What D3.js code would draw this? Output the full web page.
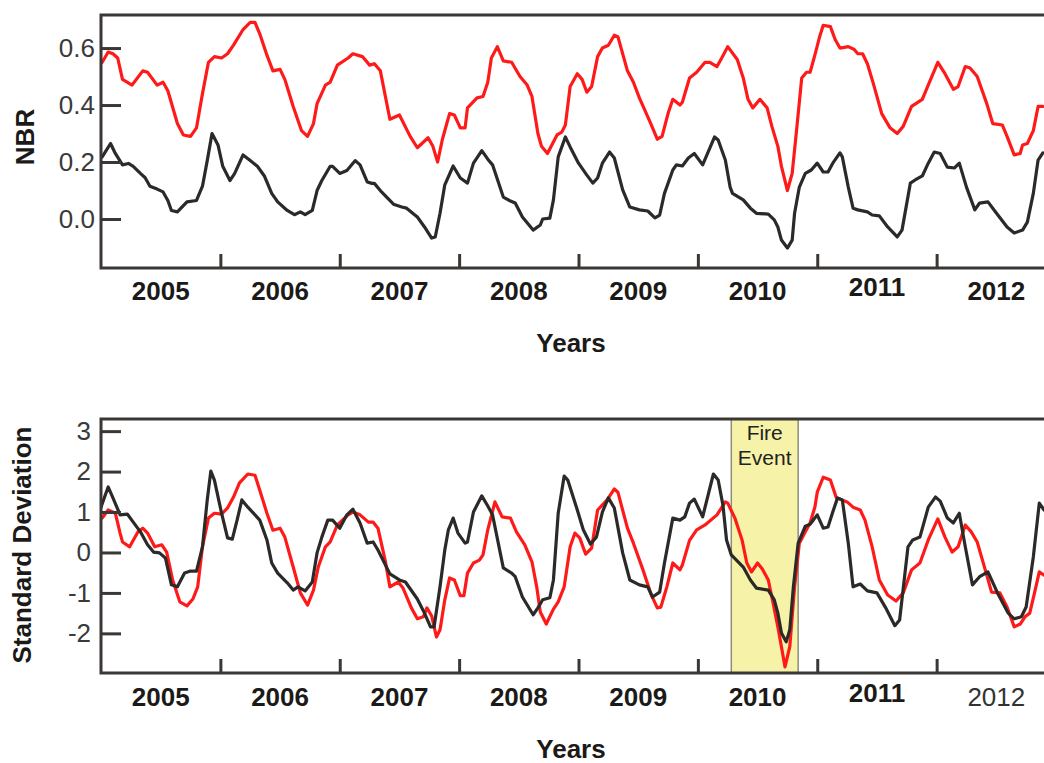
<!DOCTYPE html>
<html>
<head>
<meta charset="utf-8">
<script src="https://cdn.jsdelivr.net/npm/d3@7"></script>
<style>
  html, body { margin: 0; padding: 0; background: #fff; }
  svg { display: block; }
</style>
</head>
<body>
<svg id="chart" width="1044" height="763"></svg>
<script>
// ---- Data: [decimal year, value] ----
const yearLabels = ["2005", "2006", "2007", "2008", "2009", "2010", "2011", "2012"];
const nbrTicks = [0.0, 0.2, 0.4, 0.6];
const sdTicks = [-2, -1, 0, 1, 2, 3];
const fireStart = 2010.28;
const fireEnd = 2010.84;

const nbrRed = [
  [2005.01,0.55],[2005.06,0.586],[2005.10,0.58],[2005.14,0.565],[2005.18,0.49],[2005.26,0.47],
  [2005.35,0.52],[2005.39,0.515],[2005.47,0.47],[2005.52,0.48],[2005.56,0.45],[2005.64,0.335],
  [2005.69,0.295],[2005.75,0.29],[2005.80,0.32],[2005.85,0.44],[2005.90,0.55],[2005.95,0.57],
  [2006.01,0.565],[2006.06,0.58],[2006.11,0.61],[2006.19,0.665],[2006.25,0.69],[2006.29,0.69],
  [2006.33,0.65],[2006.39,0.575],[2006.44,0.52],[2006.50,0.525],[2006.54,0.49],[2006.61,0.395],
  [2006.68,0.31],[2006.73,0.29],[2006.78,0.335],[2006.81,0.405],[2006.88,0.47],[2006.92,0.48],
  [2006.98,0.54],[2007.07,0.565],[2007.11,0.58],[2007.19,0.57],[2007.25,0.54],[2007.29,0.545],
  [2007.34,0.52],[2007.42,0.35],[2007.50,0.365],[2007.59,0.29],[2007.65,0.25],[2007.74,0.285],
  [2007.78,0.255],[2007.82,0.2],[2007.86,0.28],[2007.92,0.37],[2007.96,0.365],[2008.01,0.32],
  [2008.05,0.32],[2008.07,0.39],[2008.15,0.425],[2008.20,0.43],[2008.24,0.48],[2008.27,0.565],
  [2008.32,0.605],[2008.37,0.555],[2008.44,0.55],[2008.51,0.5],[2008.57,0.47],[2008.61,0.43],
  [2008.66,0.3],[2008.69,0.255],[2008.74,0.23],[2008.82,0.295],[2008.86,0.305],[2008.89,0.33],
  [2008.93,0.465],[2008.99,0.51],[2009.03,0.49],[2009.07,0.445],[2009.11,0.465],[2009.16,0.57],
  [2009.20,0.6],[2009.25,0.61],[2009.30,0.645],[2009.33,0.64],[2009.41,0.52],[2009.46,0.48],
  [2009.51,0.425],[2009.60,0.34],[2009.66,0.28],[2009.70,0.29],[2009.75,0.37],[2009.79,0.42],
  [2009.85,0.4],[2009.87,0.41],[2009.93,0.495],[2009.99,0.515],[2010.06,0.55],[2010.10,0.55],
  [2010.16,0.535],[2010.20,0.565],[2010.25,0.605],[2010.33,0.56],[2010.38,0.495],[2010.42,0.42],
  [2010.46,0.39],[2010.52,0.42],[2010.58,0.39],[2010.62,0.325],[2010.67,0.255],[2010.70,0.185],
  [2010.75,0.1],[2010.79,0.16],[2010.83,0.325],[2010.87,0.495],[2010.91,0.515],[2010.94,0.515],
  [2010.98,0.575],[2011.02,0.64],[2011.05,0.68],[2011.11,0.675],[2011.15,0.63],[2011.19,0.6],
  [2011.26,0.605],[2011.31,0.595],[2011.34,0.58],[2011.38,0.58],[2011.42,0.545],[2011.47,0.475],
  [2011.54,0.37],[2011.61,0.32],[2011.67,0.3],[2011.72,0.325],[2011.79,0.395],[2011.88,0.42],
  [2011.94,0.48],[2012.01,0.55],[2012.07,0.51],[2012.14,0.455],[2012.18,0.465],[2012.24,0.535],
  [2012.28,0.53],[2012.34,0.5],[2012.42,0.405],[2012.47,0.335],[2012.55,0.33],[2012.59,0.29],
  [2012.65,0.225],[2012.70,0.23],[2012.72,0.26],[2012.76,0.265],[2012.81,0.31],[2012.85,0.395],
  [2012.89,0.395]
];

const nbrBlack = [
  [2005.01,0.218],[2005.08,0.265],[2005.12,0.23],[2005.18,0.19],[2005.23,0.195],[2005.27,0.185],
  [2005.33,0.16],[2005.37,0.145],[2005.41,0.115],[2005.47,0.105],[2005.52,0.095],[2005.56,0.065],
  [2005.59,0.03],[2005.64,0.025],[2005.72,0.06],[2005.80,0.065],[2005.85,0.115],[2005.89,0.205],
  [2005.93,0.3],[2005.98,0.26],[2006.02,0.185],[2006.08,0.135],[2006.12,0.16],[2006.19,0.225],
  [2006.25,0.205],[2006.31,0.185],[2006.37,0.15],[2006.43,0.09],[2006.48,0.06],[2006.56,0.03],
  [2006.62,0.015],[2006.67,0.025],[2006.71,0.015],[2006.77,0.03],[2006.81,0.1],[2006.85,0.135],
  [2006.92,0.185],[2006.94,0.185],[2007.00,0.16],[2007.06,0.17],[2007.13,0.205],[2007.17,0.19],
  [2007.23,0.13],[2007.27,0.125],[2007.29,0.125],[2007.35,0.095],[2007.45,0.052],[2007.52,0.042],
  [2007.56,0.038],[2007.65,0.007],[2007.71,-0.028],[2007.77,-0.067],[2007.80,-0.063],[2007.84,0.02],
  [2007.88,0.12],[2007.95,0.186],[2008.01,0.144],[2008.07,0.126],[2008.12,0.196],[2008.19,0.24],
  [2008.24,0.21],[2008.28,0.19],[2008.37,0.077],[2008.43,0.063],[2008.47,0.056],[2008.53,0.007],
  [2008.62,-0.039],[2008.68,-0.021],[2008.70,0.0],[2008.76,0.003],[2008.79,0.067],[2008.83,0.218],
  [2008.89,0.288],[2008.93,0.253],[2009.00,0.196],[2009.07,0.154],[2009.12,0.126],[2009.16,0.144],
  [2009.20,0.196],[2009.26,0.235],[2009.30,0.214],[2009.37,0.102],[2009.43,0.042],[2009.51,0.032],
  [2009.58,0.028],[2009.64,0.004],[2009.68,0.014],[2009.72,0.09],[2009.79,0.172],[2009.82,0.19],
  [2009.87,0.186],[2009.92,0.214],[2009.97,0.23],[2010.04,0.19],[2010.14,0.288],[2010.17,0.277],
  [2010.23,0.207],[2010.27,0.112],[2010.29,0.09],[2010.38,0.067],[2010.44,0.038],[2010.49,0.02],
  [2010.59,0.017],[2010.64,-0.003],[2010.67,-0.028],[2010.70,-0.074],[2010.75,-0.102],[2010.79,-0.074],
  [2010.81,0.02],[2010.85,0.112],[2010.90,0.16],[2010.95,0.172],[2011.00,0.196],[2011.05,0.165],
  [2011.09,0.165],[2011.13,0.196],[2011.19,0.232],[2011.21,0.218],[2011.26,0.112],[2011.30,0.038],
  [2011.34,0.032],[2011.42,0.025],[2011.46,0.014],[2011.52,0.011],[2011.59,-0.028],[2011.67,-0.063],
  [2011.71,-0.039],[2011.78,0.126],[2011.82,0.137],[2011.88,0.151],[2011.93,0.196],[2011.98,0.235],
  [2012.03,0.23],[2012.09,0.182],[2012.15,0.179],[2012.19,0.196],[2012.25,0.112],[2012.32,0.032],
  [2012.36,0.056],[2012.43,0.06],[2012.50,0.021],[2012.59,-0.028],[2012.65,-0.049],[2012.72,-0.039],
  [2012.76,-0.011],[2012.81,0.09],[2012.85,0.207],[2012.89,0.232]
];

const sdRed = [
  [2005.01,0.85],[2005.06,1.05],[2005.12,0.97],[2005.16,0.48],[2005.18,0.26],[2005.24,0.14],
  [2005.31,0.51],[2005.35,0.6],[2005.39,0.48],[2005.45,0.14],[2005.51,0.19],[2005.55,0.01],
  [2005.60,-0.68],[2005.66,-1.22],[2005.72,-1.32],[2005.77,-1.15],[2005.81,-0.85],[2005.85,0.14],
  [2005.90,0.85],[2005.95,0.97],[2006.01,0.95],[2006.06,1.1],[2006.11,1.37],[2006.16,1.72],
  [2006.23,1.94],[2006.29,1.91],[2006.33,1.54],[2006.39,0.97],[2006.44,0.55],[2006.50,0.6],
  [2006.54,0.38],[2006.61,-0.36],[2006.67,-1.0],[2006.73,-1.3],[2006.78,-0.93],[2006.82,-0.36],
  [2006.88,0.14],[2006.92,0.26],[2006.98,0.68],[2007.07,0.93],[2007.11,1.0],[2007.17,0.93],
  [2007.24,0.75],[2007.28,0.75],[2007.32,0.6],[2007.38,-0.19],[2007.42,-0.85],[2007.49,-0.73],
  [2007.53,-0.88],[2007.60,-1.37],[2007.65,-1.64],[2007.70,-1.59],[2007.73,-1.37],[2007.77,-1.57],
  [2007.81,-2.09],[2007.84,-1.91],[2007.88,-1.17],[2007.92,-0.63],[2007.96,-0.68],[2008.01,-1.07],
  [2008.04,-1.07],[2008.07,-0.51],[2008.12,-0.26],[2008.17,-0.19],[2008.20,-0.06],[2008.24,0.56],
  [2008.30,1.25],[2008.36,0.88],[2008.43,0.85],[2008.48,0.51],[2008.55,0.19],[2008.61,-0.23],
  [2008.65,-0.85],[2008.68,-1.47],[2008.73,-1.77],[2008.79,-1.4],[2008.83,-1.22],[2008.88,-0.85],
  [2008.93,0.14],[2008.97,0.48],[2009.01,0.36],[2009.06,-0.04],[2009.11,0.11],[2009.16,1.05],
  [2009.24,1.3],[2009.30,1.57],[2009.33,1.49],[2009.41,0.6],[2009.46,0.23],[2009.54,-0.43],
  [2009.61,-1.05],[2009.66,-1.37],[2009.69,-1.35],[2009.74,-0.85],[2009.79,-0.26],[2009.85,-0.43],
  [2009.87,-0.31],[2009.93,0.3],[2009.99,0.56],[2010.06,0.68],[2010.16,0.93],[2010.23,1.25],
  [2010.25,1.22],[2010.31,0.85],[2010.37,0.31],[2010.41,-0.26],[2010.45,-0.48],[2010.50,-0.26],
  [2010.54,-0.41],[2010.59,-0.68],[2010.63,-1.25],[2010.67,-1.84],[2010.73,-2.83],[2010.77,-2.33],
  [2010.81,-0.85],[2010.85,0.23],[2010.90,0.51],[2010.94,0.73],[2010.98,1.12],[2011.00,1.49],
  [2011.05,1.86],[2011.11,1.79],[2011.16,1.35],[2011.25,1.25],[2011.30,1.12],[2011.36,1.05],
  [2011.40,0.8],[2011.46,0.14],[2011.52,-0.68],[2011.59,-1.05],[2011.66,-1.2],[2011.72,-1.0],
  [2011.79,-0.43],[2011.86,-0.26],[2011.93,0.31],[2012.01,0.83],[2012.07,0.38],[2012.13,0.01],
  [2012.18,0.14],[2012.24,0.68],[2012.29,0.51],[2012.34,0.26],[2012.42,-0.56],[2012.46,-0.98],
  [2012.53,-1.0],[2012.59,-1.35],[2012.65,-1.84],[2012.70,-1.77],[2012.74,-1.59],[2012.78,-1.5],
  [2012.82,-1.0],[2012.86,-0.48],[2012.90,-0.56]
];

const sdBlack = [
  [2005.00,1.12],[2005.03,1.37],[2005.06,1.62],[2005.10,1.35],[2005.16,0.93],[2005.22,0.95],
  [2005.27,0.75],[2005.33,0.51],[2005.39,0.19],[2005.44,0.01],[2005.49,-0.01],[2005.54,-0.14],
  [2005.59,-0.8],[2005.64,-0.85],[2005.70,-0.51],[2005.75,-0.46],[2005.80,-0.46],[2005.85,0.14],
  [2005.89,1.3],[2005.92,2.01],[2005.95,1.79],[2006.01,0.97],[2006.06,0.36],[2006.10,0.33],
  [2006.14,0.8],[2006.18,1.3],[2006.23,1.12],[2006.29,0.93],[2006.33,0.8],[2006.39,0.31],
  [2006.43,-0.26],[2006.48,-0.51],[2006.56,-0.75],[2006.61,-0.93],[2006.65,-0.85],[2006.71,-0.95],
  [2006.77,-0.73],[2006.81,-0.01],[2006.85,0.38],[2006.90,0.8],[2006.94,0.8],[2007.00,0.6],
  [2007.06,0.93],[2007.11,1.07],[2007.17,0.73],[2007.23,0.23],[2007.28,0.26],[2007.32,0.06],
  [2007.42,-0.53],[2007.50,-0.68],[2007.55,-0.73],[2007.65,-1.15],[2007.71,-1.5],[2007.76,-1.84],
  [2007.79,-1.84],[2007.84,-0.85],[2007.88,0.06],[2007.91,0.56],[2007.95,0.85],[2007.99,0.48],
  [2008.05,0.23],[2008.07,0.26],[2008.12,1.0],[2008.19,1.4],[2008.24,1.15],[2008.28,0.93],
  [2008.37,-0.38],[2008.44,-0.51],[2008.47,-0.6],[2008.53,-1.1],[2008.62,-1.54],[2008.66,-1.37],
  [2008.70,-1.17],[2008.76,-1.12],[2008.79,-0.68],[2008.83,0.97],[2008.88,1.89],[2008.91,1.79],
  [2008.99,1.05],[2009.04,0.56],[2009.10,0.21],[2009.15,0.38],[2009.20,1.0],[2009.25,1.35],
  [2009.30,1.1],[2009.37,-0.01],[2009.43,-0.68],[2009.51,-0.8],[2009.58,-0.85],[2009.62,-1.1],
  [2009.68,-0.98],[2009.72,-0.26],[2009.79,0.85],[2009.85,0.8],[2009.89,0.88],[2009.93,1.22],
  [2009.97,1.32],[2010.04,0.88],[2010.13,1.94],[2010.17,1.79],[2010.21,1.17],[2010.24,0.31],
  [2010.28,-0.06],[2010.38,-0.36],[2010.44,-0.68],[2010.49,-0.88],[2010.59,-0.93],[2010.64,-1.17],
  [2010.67,-1.5],[2010.70,-1.99],[2010.74,-2.21],[2010.77,-1.91],[2010.80,-0.85],[2010.84,0.23],
  [2010.90,0.65],[2010.94,0.7],[2011.00,0.93],[2011.05,0.6],[2011.09,0.63],[2011.13,1.0],
  [2011.17,1.35],[2011.21,1.3],[2011.26,0.23],[2011.30,-0.85],[2011.36,-0.78],[2011.42,-0.95],
  [2011.50,-1.0],[2011.57,-1.35],[2011.65,-1.81],[2011.69,-1.67],[2011.76,0.14],[2011.80,0.31],
  [2011.86,0.38],[2011.93,1.12],[2011.99,1.37],[2012.03,1.27],[2012.09,0.85],[2012.14,0.73],
  [2012.19,0.97],[2012.24,0.14],[2012.30,-0.8],[2012.36,-0.6],[2012.43,-0.48],[2012.51,-1.0],
  [2012.60,-1.5],[2012.65,-1.64],[2012.71,-1.59],[2012.75,-1.35],[2012.81,-0.11],[2012.86,1.22],
  [2012.90,1.05]
];

// ---- Layout ----
const svg = d3.select("#chart");
const RED = "#ff1a1a";
const DARK = "#2b2a28";
const AXIS = "#3b3734";
const fontStack = "'Liberation Sans', Arial, Helvetica, sans-serif";

const x = d3.scaleLinear().domain([2005, 2013]).range([101, 1056]);

// integer ticks written with a plain hyphen as the minus sign
const intFmt = v => String(Math.round(v));

const panels = [
  {
    top: 15, bottom: 268,
    y: d3.scaleLinear().domain([-0.172, 0.716]).range([268, 15]),
    ticks: nbrTicks, fmt: d3.format(".1f"), labelPad: 6,
    series: [{ data: nbrRed, color: RED }, { data: nbrBlack, color: DARK }],
    title: "NBR", titleX: 25, titleY: 137,
    yearBaseline: 300, axisTitleBaseline: 352,
    lastRegular: false
  },
  {
    top: 419, bottom: 673,
    y: d3.scaleLinear().domain([-2.98, 3.30]).range([673, 419]),
    ticks: sdTicks, fmt: intFmt, labelPad: 10,
    series: [{ data: sdRed, color: RED }, { data: sdBlack, color: DARK }],
    title: "Standard Deviation", titleX: 22, titleY: 545,
    yearBaseline: 706, axisTitleBaseline: 758,
    lastRegular: true,
    fire: true
  }
];

panels.forEach((p, i) => {
  const g = svg.append("g");
  const clipId = "clip" + i;
  svg.append("clipPath").attr("id", clipId)
    .append("rect")
    .attr("x", x.range()[0]).attr("y", p.top)
    .attr("width", x.range()[1] - x.range()[0]).attr("height", p.bottom - p.top);

  // Fire event band
  if (p.fire) {
    g.append("rect")
      .attr("x", x(fireStart)).attr("y", p.top)
      .attr("width", x(fireEnd) - x(fireStart)).attr("height", p.bottom - p.top)
      .attr("fill", "#f6f3a9").attr("stroke", "#8e8d7c").attr("stroke-width", 1.5);
    const cx = (x(fireStart) + x(fireEnd)) / 2;
    g.append("text").attr("x", cx).attr("y", p.top + 21)
      .attr("text-anchor", "middle").attr("font-family", fontStack)
      .attr("font-size", 21).attr("fill", "#222").text("Fire");
    g.append("text").attr("x", cx).attr("y", p.top + 46)
      .attr("text-anchor", "middle").attr("font-family", fontStack)
      .attr("font-size", 21).attr("fill", "#222").text("Event");
  }

  // Series lines
  const line = d3.line().x(d => x(d[0])).y(d => p.y(d[1]));
  const lg = g.append("g").attr("clip-path", `url(#${clipId})`);
  p.series.forEach(s => {
    lg.append("path").datum(s.data)
      .attr("d", line).attr("fill", "none")
      .attr("stroke", s.color).attr("stroke-width", 3.2)
      .attr("stroke-linejoin", "round").attr("stroke-linecap", "round");
  });

  // Y axis: inward ticks, labels on the left
  const yAxis = d3.axisLeft(p.y).tickValues(p.ticks).tickFormat(p.fmt)
    .tickSizeInner(-20).tickSizeOuter(0).tickPadding(p.labelPad);
  const ya = g.append("g").attr("transform", `translate(${x.range()[0]},0)`).call(yAxis);
  ya.select(".domain").remove();
  ya.selectAll(".tick line").attr("stroke", AXIS).attr("stroke-width", 3);
  ya.selectAll(".tick text").attr("font-family", fontStack).attr("font-size", 26)
    .attr("fill", "#3a3a3a");

  // X axis: inward year-boundary ticks
  const xAxis = d3.axisBottom(x).tickValues(d3.range(2006, 2013)).tickFormat("")
    .tickSizeInner(-14).tickSizeOuter(0);
  const xa = g.append("g").attr("transform", `translate(0,${p.bottom})`).call(xAxis);
  xa.select(".domain").remove();
  xa.selectAll(".tick line").attr("stroke", AXIS).attr("stroke-width", 3);

  // Frame
  g.append("rect")
    .attr("x", x.range()[0]).attr("y", p.top)
    .attr("width", x.range()[1] - x.range()[0]).attr("height", p.bottom - p.top)
    .attr("fill", "none").attr("stroke", AXIS).attr("stroke-width", 3);

  // Year labels centred within each year
  yearLabels.forEach((lab, k) => {
    const yr = +lab;
    const regular = p.lastRegular && k === yearLabels.length - 1;
    g.append("text")
      .attr("x", x(yr + 0.5))
      .attr("y", p.yearBaseline - (lab === "2011" ? 4 : 0))
      .attr("text-anchor", "middle")
      .attr("font-family", fontStack).attr("font-size", 26)
      .attr("font-weight", regular ? "normal" : "bold")
      .attr("fill", regular ? "#333" : "#1c1a18")
      .text(lab);
  });

  // Axis titles
  g.append("text")
    .attr("x", 571).attr("y", p.axisTitleBaseline)
    .attr("text-anchor", "middle").attr("font-family", fontStack)
    .attr("font-size", 26).attr("font-weight", "bold").attr("fill", "#1c1a18")
    .text("Years");
  g.append("text")
    .attr("transform", `translate(${p.titleX},${p.titleY}) rotate(-90)`)
    .attr("text-anchor", "middle").attr("dominant-baseline", "central")
    .attr("font-family", fontStack).attr("font-size", 26).attr("font-weight", "bold")
    .attr("fill", "#1c1a18")
    .text(p.title);
});
</script>
</body>
</html>
